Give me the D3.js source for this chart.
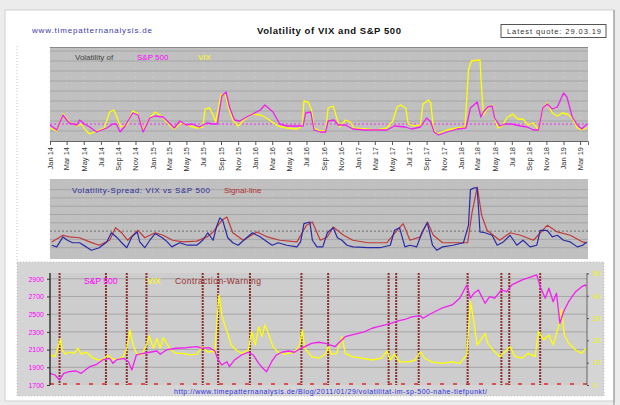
<!DOCTYPE html>
<html>
<head>
<meta charset="utf-8">
<script src="https://cdn.jsdelivr.net/npm/d3@7"></script>
<style>
  body { margin: 0; background: #ececec; }
  svg { display: block; font-family: "Liberation Sans", Arial, sans-serif; }
</style>
</head>
<body>
<div id="chart"></div>
<script>
// time values are months since Jan 2014 (0 = 1 Jan 2014)

// panel 1: volatility of S&P 500 and of VIX
const spVol = [[0,16],[0.8,11],[1.5,26],[2.3,18],[3.2,16],[3.5,21],[4.1,17],[4.7,14],[5.5,9],[6.7,13],[7.4,17],[7.8,17],[8.2,9],[8.8,15],[9.7,28],[10.3,26],[10.9,9],[11.7,23],[12.3,25],[13.2,24],[14,18],[14.6,13],[15.2,20],[16,16],[16.7,17],[17.5,14],[18.4,18],[19.1,17],[19.6,17],[20.1,45],[20.6,49],[21,34],[21.6,21],[22.2,20],[23,24],[23.7,27],[24.6,31],[25.1,36],[26.1,29],[26.9,17],[27.7,15],[28.9,15],[29.6,15],[29.9,28],[30.5,29],[30.9,11],[31.6,9],[32.2,9],[32.5,20],[33.2,21],[33.7,16],[34.5,16],[35.4,12],[36.8,11],[38.2,11],[39.4,11],[40.3,15],[41.5,14],[42.3,12],[43.3,14],[44,23],[44.5,19],[44.9,9],[45.4,6],[46.4,9],[47.6,12],[48.6,13],[49.1,33],[49.9,39],[50.4,24],[50.7,29],[51.2,34],[51.7,35],[52,23],[52.6,15],[53.2,17],[54,17],[55,15],[55.8,14],[56.5,11],[57.1,11],[57.6,33],[58.1,37],[58.7,32],[59.3,34],[60,48],[60.4,44],[61,24],[61.6,16],[62.2,12],[62.8,17]];
const vixVol = [[0,13],[0.8,10],[1.5,27],[2.3,19],[3.2,15],[3.7,17],[4.2,11],[4.7,7],[5.5,10],[6.4,13],[7,29],[7.5,31],[7.9,23],[8.3,14],[9,16],[9.7,30],[10.2,28],[10.9,11],[11.7,23],[12.3,29],[13.1,24],[14,16],[14.6,12],[15.4,18],[16.4,15],[17.2,13],[17.9,14],[18.2,32],[18.7,33],[19.1,26],[19.4,19],[20,46],[20.5,47],[20.9,33],[21.4,21],[22,15],[22.8,22],[23.6,27],[24.6,26],[25.1,24],[26,19],[26.7,15],[27.7,13],[28.9,12],[29.5,15],[29.7,40],[30.2,39],[30.6,31],[30.9,13],[31.6,10],[32.2,10],[32.5,33],[33.1,35],[33.6,21],[33.9,14],[34.5,21],[35.1,19],[35.5,13],[36.8,12],[38.2,11],[39.4,13],[40.1,20],[40.6,34],[41,36],[41.6,33],[41.9,17],[42.6,15],[43.3,16],[43.6,37],[44.2,41],[44.5,38],[44.8,13],[45.2,7],[46.4,11],[47.6,13],[48.5,14],[48.9,71],[49.2,80],[50.3,81],[50.5,51],[50.7,26],[51.2,33],[51.7,36],[52,23],[52.4,13],[52.9,15],[53.4,23],[54.1,27],[54.7,22],[55.3,22],[55.9,16],[56.5,18],[57.1,11],[57.6,33],[58.1,38],[58.7,28],[59.3,25],[59.9,28],[60.4,27],[61,23],[61.6,13],[62.2,11],[62.8,13]];
const spMean = 17;

// panel 2: volatility spread VIX vs S&P 500 and its signal line
const spread = [[0.2,1.3],[0.8,1.1],[1.5,2.3],[2.1,1.9],[2.7,1.6],[3.5,1.6],[4.3,1.1],[4.9,0.7],[5.8,1.0],[6.7,1.7],[7.2,2.8],[7.8,2.3],[8.4,1.6],[9,1.0],[9.6,2.3],[10.2,2.9],[10.5,1.7],[11.1,1.0],[11.7,1.9],[12.3,2.7],[13.1,2.2],[13.7,1.7],[14.3,1.1],[15.2,1.6],[16.1,1.3],[17.2,1.3],[17.9,1.9],[18.5,2.8],[19.1,1.9],[19.5,3.5],[19.9,4.6],[20.2,4.3],[20.8,2.2],[21.4,1.6],[22,1.3],[23,2.2],[23.7,2.8],[24.6,2.3],[25.4,1.7],[26,1.3],[26.7,1.6],[27.7,1.3],[28.9,1.1],[29.3,1.7],[29.7,3.9],[30.4,4.1],[30.7,1.9],[31.2,1.1],[31.9,1.1],[32.4,2.8],[33.1,3.4],[33.6,2.2],[34.1,1.9],[34.7,1.3],[35.4,1.1],[37.1,1.0],[38.6,1.0],[39.8,1.3],[40.3,3.1],[40.9,3.4],[41.5,1.1],[42.1,1.3],[42.9,1.1],[43.5,2.9],[44.1,4.0],[44.7,1.3],[45.2,0.7],[45.9,1.1],[47.1,1.3],[48.3,1.6],[48.9,3.7],[49.1,8.0],[49.5,8.2],[49.9,8.2],[50.3,2.9],[50.9,2.8],[51.7,2.5],[52.3,1.3],[53,1.7],[53.8,2.5],[54.6,1.3],[55.3,1.9],[56.1,1.1],[56.9,1.3],[57.3,3.1],[58.1,3.1],[58.7,2.3],[59.3,2.5],[60,1.9],[60.8,1.7],[61.6,1.1],[62.3,1.3],[62.8,1.7]];
const signal = [[0.2,1.7],[1.5,2.5],[2.3,2.3],[3.5,2.2],[4.7,1.7],[5.8,1.3],[7,1.9],[7.7,3.4],[8.4,2.8],[9.1,1.9],[10.3,3.1],[11.1,2.2],[12.3,2.8],[13.2,2.5],[14.4,1.9],[15.6,1.7],[17.2,1.8],[18.4,2.3],[19.1,2.9],[20.1,4.3],[20.7,4.7],[21.4,2.8],[22.6,1.9],[24.2,2.9],[25.4,2.3],[26.9,1.9],[28.9,1.7],[30,3.7],[30.7,4.1],[31.6,1.9],[32.4,2.3],[33.1,3.5],[34.3,2.5],[35.4,1.9],[37.1,1.6],[39.4,1.6],[40.6,3.1],[41.3,3.9],[42.1,1.9],[43.3,2.3],[44.1,4.1],[44.8,2.5],[45.9,1.6],[48.8,1.6],[49.3,5.3],[49.9,8.3],[50.5,4.9],[51.1,3.1],[52.6,1.9],[53.8,2.8],[55,2.5],[56.5,1.9],[58.1,3.7],[59.3,2.9],[60.8,2.5],[62.3,1.7],[62.8,1.6]];
const spreadRef = 3;

// panel 3: S&P 500, VIX and contraction warnings
const spx = [[0,1832],[0.6,1813],[1.1,1757],[1.6,1832],[2.3,1850],[3.1,1858],[3.7,1832],[4.7,1907],[5.5,1934],[6.2,1983],[7,2002],[7.4,1945],[7.8,1983],[8.6,2002],[9.2,1963],[9.6,1870],[10.1,2039],[10.9,2058],[11.7,2070],[12.5,2084],[12.9,2047],[13.6,2096],[14.8,2115],[16,2121],[17.2,2133],[17.9,2115],[18.7,2121],[19.3,2084],[19.7,1983],[20.1,1926],[20.7,1963],[21,1907],[21.6,1983],[22.4,2039],[23.2,2070],[23.8,2039],[24.4,1945],[24.9,1889],[25.3,1850],[25.9,1963],[26.5,2039],[27.1,2070],[27.9,2084],[28.6,2070],[29.2,2107],[29.8,2133],[30.6,2171],[31.4,2183],[32.2,2171],[32.7,2152],[33.3,2133],[33.9,2189],[34.5,2246],[35.3,2265],[36,2284],[36.8,2302],[37.6,2341],[38.4,2359],[39.2,2378],[39.9,2397],[40.7,2423],[41.5,2440],[42.3,2470],[43.3,2483],[43.6,2454],[44.6,2510],[45.8,2567],[47,2604],[47.9,2680],[48.7,2830],[49.1,2680],[49.5,2736],[50.1,2774],[50.9,2623],[51.4,2698],[52,2680],[52.8,2774],[53.4,2754],[54,2830],[55.2,2887],[56.3,2924],[56.9,2943],[57.3,2811],[57.9,2680],[58.3,2793],[58.8,2641],[59.2,2736],[59.6,2397],[60,2528],[60.6,2641],[61.4,2754],[62.2,2811],[62.6,2830],[62.7,2811]];
const vix = [[0,13.5],[0.6,12.7],[1,17.9],[1.2,20.6],[1.4,15.7],[1.8,13.8],[2.3,14.7],[2.9,14.2],[3.3,16.5],[3.7,13.8],[4.3,14.7],[5.1,12],[5.8,11.2],[6.4,11.7],[6.8,13.5],[7.2,12],[7.8,11.2],[8.6,12.7],[9,16.5],[9.4,24.7],[9.7,18.7],[10.1,14.2],[10.7,13.5],[11.3,17.9],[11.6,22.1],[12.1,16.5],[12.5,20.9],[12.9,16.5],[13.2,21.2],[13.6,18.7],[14.2,15.7],[14.8,14.2],[15.6,14.2],[16.4,13.5],[17.2,13.8],[17.9,17.2],[18.5,14.7],[19.1,15.2],[19.3,14.2],[19.6,31.4],[19.8,40.4],[20.1,31.4],[20.5,26.1],[20.8,23.2],[21.2,17.9],[21.8,15.7],[22.4,14.2],[23.2,15.7],[23.6,23.9],[24,17.9],[24.4,26.1],[24.8,21.7],[25.1,26.9],[25.5,23.2],[26.1,17.2],[26.7,14.7],[27.5,13.8],[28.6,14.7],[29.2,17.9],[29.5,24.7],[29.8,16.5],[30.6,12.7],[31.4,12],[32.2,13.8],[32.5,17.2],[32.9,13.8],[33.5,14.2],[34.1,21.7],[34.5,14.2],[35.3,12.7],[36.4,12],[37.6,11.2],[38.8,12],[39.4,15.2],[39.8,11.2],[40.3,13.8],[40.9,10.4],[41.9,10.4],[42.7,11.2],[43.3,14.9],[43.8,12],[44.6,10.4],[45.8,9.7],[47,10.4],[47.9,9.7],[48.7,13.5],[49.1,37.4],[49.5,28.4],[49.9,17.9],[50.4,20.2],[50.9,23.2],[51.2,18.7],[51.8,15.7],[52.6,12.7],[53.2,14.9],[53.8,17.2],[54.4,12.7],[55.2,12],[55.9,14.2],[56.7,12.7],[57.1,23.9],[57.7,20.2],[58.3,22.4],[58.8,17.9],[59.5,27],[59.8,34],[60.1,22.4],[60.6,18.7],[61.4,15.7],[62.2,14.2],[62.7,16.5]];
const warnings = [1.1, 6.6, 9.0, 11.3, 17.9, 19.7, 23.4, 29.4, 32.5, 39.6, 40.5, 43.1, 48.8, 52.8, 53.7, 57.3];

const spxTicks = [1700, 1900, 2100, 2300, 2500, 2700, 2900];
const vixTicks = [0, 10, 20, 30, 40, 50];

const W = 620, H = 405;
const mDate = m => new Date(2014, Math.floor(m), 1 + Math.round((m % 1) * 30));

var svg = d3.select("#chart").append("svg")
    .attr("width", W)
    .attr("height", H);

// page frame
svg.append("rect").attr("x", 5).attr("y", 10).attr("width", 609).attr("height", 391)
    .attr("fill", "#fff").attr("stroke", "#cfcfcf");
svg.append("line").attr("x1", 614).attr("x2", 614).attr("y1", 10).attr("y2", 405)
    .attr("stroke", "#8c8c8c");
svg.append("line").attr("x1", 17).attr("x2", 17).attr("y1", 46).attr("y2", 262)
    .attr("stroke", "#c4c4c4").attr("stroke-dasharray", "1,2");

// header
svg.append("text").attr("x", 32).attr("y", 33).attr("font-size", 8).attr("fill", "#3b3bb0")
    .attr("textLength", 120).text("www.timepatternanalysis.de");
svg.append("text").attr("x", 329).attr("y", 34).attr("font-size", 9.5).attr("font-weight", "bold")
    .attr("text-anchor", "middle").attr("fill", "#111").attr("textLength", 144)
    .text("Volatility of VIX and S&P 500");
svg.append("rect").attr("x", 501).attr("y", 24.5).attr("width", 105).attr("height", 13)
    .attr("fill", "#fff").attr("stroke", "#555");
svg.append("text").attr("x", 507).attr("y", 34).attr("font-size", 7.5).attr("fill", "#333")
    .attr("textLength", 94).text("Latest quote: 29.03.19");

var x = d3.scaleTime().domain([new Date(2014, 0, 1), new Date(2019, 2, 29)]).range([50, 588]);
var monthTicks = d3.timeMonth.every(2).range(new Date(2014, 0, 1), new Date(2019, 2, 29));

function drawLine(g, data, yScale, color, w) {
    var line = d3.line().x(d => x(mDate(d[0]))).y(d => yScale(d[1]));
    g.append("path").datum(data).attr("d", line)
        .attr("fill", "none").attr("stroke", color).attr("stroke-width", w)
        .attr("stroke-linejoin", "round");
}

function plotBg(g, y0, y1, yScale, gridVals, fill) {
    g.append("rect").attr("x", 50).attr("y", y0).attr("width", 538).attr("height", y1 - y0)
        .attr("fill", fill);
    g.selectAll(".vg").data(monthTicks).enter().append("line")
        .attr("x1", d => x(d)).attr("x2", d => x(d)).attr("y1", y0).attr("y2", y1)
        .attr("stroke", "#cdcdcd").attr("stroke-dasharray", "1,4");
    g.selectAll(".hg").data(gridVals).enter().append("line")
        .attr("x1", 50).attr("x2", 588).attr("y1", d => yScale(d)).attr("y2", d => yScale(d))
        .attr("stroke", "#a6a6a6");
}

// ---- panel 1
var p1 = svg.append("g");
var y1 = d3.scaleLinear().domain([0, 94]).range([141, 47]);
plotBg(p1, 47, 141, y1, [10, 20, 30, 40, 50, 60, 70, 80, 90], "#c0c0c0");
p1.append("line").attr("x1", 50).attr("x2", 588).attr("y1", 47.5).attr("y2", 47.5).attr("stroke", "#8a8a8a");
p1.append("line").attr("x1", 50).attr("x2", 588).attr("y1", y1(spMean)).attr("y2", y1(spMean))
    .attr("stroke", "#f030f0").attr("stroke-dasharray", "2,2");
drawLine(p1, vixVol, y1, "#ffff00", 1.3);
drawLine(p1, spVol, y1, "#f020f0", 1.3);

var xAxis = p1.append("g").attr("transform", "translate(0,141)")
    .call(d3.axisBottom(x).tickValues(monthTicks).tickFormat(d3.timeFormat("%b %y")).tickSize(4));
xAxis.select(".domain").attr("stroke", "#666");
xAxis.selectAll(".tick line").attr("stroke", "#555");
xAxis.selectAll("text")
    .attr("transform", "rotate(-90)")
    .attr("x", -6).attr("y", 0).attr("dy", "0.32em")
    .style("text-anchor", "end")
    .attr("font-size", 7.5).attr("fill", "#333");

p1.append("text").attr("x", 75).attr("y", 60).attr("font-size", 8).attr("fill", "#444").text("Volatility of");
p1.append("text").attr("x", 137).attr("y", 60).attr("font-size", 8).attr("fill", "#ff00ff").text("S&P 500");
p1.append("text").attr("x", 198).attr("y", 60).attr("font-size", 8).attr("fill", "#ffff00").text("VIX");

// ---- panel 2
var p2 = svg.append("g");
var y2 = d3.scaleLinear().domain([-0.36, 9.28]).range([259, 179]);
plotBg(p2, 179, 259, y2, [1, 2, 4, 5, 6, 7, 8], "#c0c0c0");
p2.append("line").attr("x1", 50).attr("x2", 588).attr("y1", y2(spreadRef)).attr("y2", y2(spreadRef))
    .attr("stroke", "#6e6e6e").attr("stroke-dasharray", "2,2");
drawLine(p2, signal, y2, "#c03a3a", 1.2);
drawLine(p2, spread, y2, "#2a2aa8", 1.2);
p2.append("text").attr("x", 72).attr("y", 193).attr("font-size", 8).attr("fill", "#2a2a9a")
    .attr("textLength", 138).text("Volatility-Spread:  VIX vs S&P 500");
p2.append("text").attr("x", 224).attr("y", 193).attr("font-size", 8).attr("fill", "#b52e2e")
    .text("Signal-line");

// ---- panel 3
var p3 = svg.append("g");
p3.append("rect").attr("x", 17).attr("y", 262).attr("width", 587).attr("height", 134)
    .attr("fill", "#d5d5d5").attr("stroke", "#c2c2c2").attr("stroke-dasharray", "1,2");
var yL = d3.scaleLinear().domain([1700, 2965]).range([385, 273]);
var yR = d3.scaleLinear().domain([0, 50.2]).range([385, 273]);
p3.append("rect").attr("x", 50).attr("y", 273).attr("width", 537).attr("height", 112).attr("fill", "#cdcdcd");
p3.selectAll(".hg").data(spxTicks.slice(1)).enter().append("line")
    .attr("x1", 50).attr("x2", 587).attr("y1", d => yL(d)).attr("y2", d => yL(d))
    .attr("stroke", "#a6a6a6");

// contraction warnings: baseline dashes and vertical markers
p3.append("line").attr("x1", 50).attr("x2", 587).attr("y1", 384).attr("y2", 384)
    .attr("stroke", "#e02a2a").attr("stroke-width", 1.5).attr("stroke-dasharray", "4,9");
p3.selectAll(".warn").data(warnings).enter().append("line")
    .attr("x1", d => x(mDate(d))).attr("x2", d => x(mDate(d)))
    .attr("y1", 273).attr("y2", 385)
    .attr("stroke", "#8c3030").attr("stroke-width", 2).attr("stroke-dasharray", "2,1");

drawLine(p3, vix, yR, "#ffff00", 1.3);
drawLine(p3, spx, yL, "#f020f0", 1.3);

p3.append("line").attr("x1", 50).attr("x2", 50).attr("y1", 273).attr("y2", 385).attr("stroke", "#111").attr("stroke-width", 1.2);
p3.append("line").attr("x1", 587).attr("x2", 587).attr("y1", 273).attr("y2", 385).attr("stroke", "#666");

var lAx = p3.append("g").attr("transform", "translate(50,0)")
    .call(d3.axisLeft(yL).tickValues(spxTicks).tickFormat(d3.format("d")).tickSize(3));
lAx.select(".domain").remove();
lAx.selectAll(".tick line").attr("stroke", "#333");
lAx.selectAll("text").attr("font-size", 7).attr("fill", "#ff00ff").attr("x", -6);

var rAx = p3.append("g").attr("transform", "translate(587,0)")
    .call(d3.axisRight(yR).tickValues(vixTicks).tickFormat(d3.format("d")).tickSize(2));
rAx.select(".domain").remove();
rAx.selectAll(".tick line").attr("stroke", "#555");
rAx.selectAll("text").attr("font-size", 7).attr("fill", "#f2f200").attr("x", 6);

p3.append("text").attr("x", 84).attr("y", 284).attr("font-size", 8.5).attr("fill", "#ff00ff").text("S&P 500");
p3.append("text").attr("x", 147).attr("y", 284).attr("font-size", 8.5).attr("fill", "#ffff00").text("VIX");
p3.append("text").attr("x", 175).attr("y", 284).attr("font-size", 8.5).attr("fill", "#9a2f2f")
    .attr("textLength", 86).text("Contraction-Warning");

p3.append("text").attr("x", 174).attr("y", 394).attr("font-size", 7).attr("fill", "#2e2ee0")
    .attr("textLength", 313)
    .text("http://www.timepatternanalysis.de/Blog/2011/01/29/volatilitat-im-sp-500-nahe-tiefpunkt/");
</script>
</body>
</html>
